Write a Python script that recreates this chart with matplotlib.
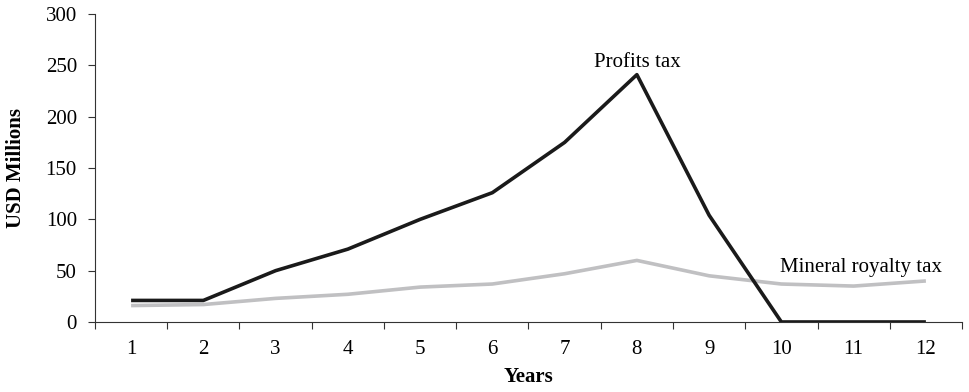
import matplotlib
matplotlib.use("Agg")
import matplotlib.pyplot as plt
import numpy as np

plt.rcParams['font.family'] = ['Liberation Serif', 'DejaVu Serif']

years = [1, 2, 3, 4, 5, 6, 7, 8, 9, 10, 11, 12]
profits_tax = [21, 21, 50, 71, 100, 126, 175, 241, 104, 0, 0, 0]
royalty_tax = [16, 17, 23, 27, 34, 37, 47, 60, 45, 37, 35, 40]
yticks = [0, 50, 100, 150, 200, 250, 300]

FS = 15

fig = plt.figure(figsize=(9.69, 3.92), dpi=100)
ax = fig.add_axes([0.098, 0.1786, 0.8948, 0.7854])

x = np.array(years)
ax.plot(x, royalty_tax, color='#c0c0c2', lw=2.6, solid_capstyle='butt')
ax.plot(x, profits_tax, color='#1a1a1a', lw=2.6, solid_capstyle='butt')

ax.set_xlim(0.5, 12.5)
ax.set_ylim(0, 300)
ax.set_yticks(yticks)
ax.set_xticks(np.arange(0.5, 13.0, 1.0))
ax.set_xticklabels([])
ax.set_xticks(x, minor=True)
ax.set_xticklabels([str(v) for v in years], minor=True)
ax.tick_params(axis='x', which='major', direction='out', length=5, width=0.8, color='#333333')
ax.tick_params(axis='x', which='minor', length=0, pad=13, labelsize=FS)
ax.tick_params(axis='y', direction='out', length=5, width=0.8, color='#333333', labelsize=FS, pad=8)

for s in ['top', 'right']:
    ax.spines[s].set_visible(False)
for s in ['left', 'bottom']:
    ax.spines[s].set_color('#333333')
    ax.spines[s].set_linewidth(0.8)

ax.set_ylabel('USD Millions', fontsize=FS, fontweight='bold', labelpad=14)
ax.set_xlabel('Years', fontsize=FS, fontweight='bold', labelpad=6)

ax.text(8, 248, 'Profits tax', ha='center', va='baseline', fontsize=FS)
ax.text(9.98, 48.7, 'Mineral royalty tax', ha='left', va='baseline', fontsize=FS)

fig.savefig('out.png', dpi=100)
